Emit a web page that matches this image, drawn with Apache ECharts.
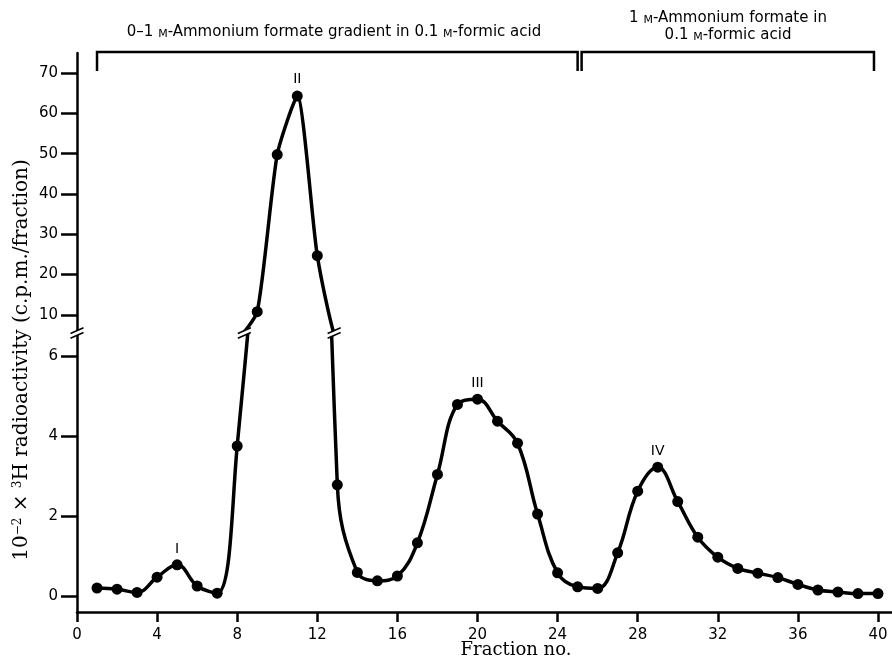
<!DOCTYPE html>
<html>
<head>
<meta charset="utf-8">
<script src="https://cdn.jsdelivr.net/npm/echarts@6/dist/echarts.min.js"></script>
<style>
  html, body { margin: 0; padding: 0; background: #fff; }
  #chart { width: 892px; height: 668px; }
</style>
</head>
<body>
<div id="chart"></div>
<script>
// fraction numbers and 10^-2 x 3H c.p.m. per fraction
const fractions = [1, 2, 3, 4, 5, 6, 7, 8, 9, 10, 11, 12, 13, 14, 15, 16, 17, 18, 19, 20,
  21, 22, 23, 24, 25, 26, 27, 28, 29, 30, 31, 32, 33, 34, 35, 36, 37, 38, 39, 40];
const activity = [0.2, 0.17, 0.09, 0.47, 0.78, 0.25, 0.07, 3.75, 10.8, 49.8,
  64.3, 24.7, 2.78, 0.59, 0.38, 0.5, 1.33, 3.04, 4.79, 4.92,
  4.37, 3.82, 2.05, 0.58, 0.23, 0.19, 1.08, 2.62, 3.22, 2.36,
  1.47, 0.97, 0.69, 0.57, 0.46, 0.29, 0.15, 0.1, 0.06, 0.06];

const peakNames = ['I', 'II', 'III', 'IV'];
const peakFractions = [5, 11, 20, 29];

const xTicks = [0, 4, 8, 12, 16, 20, 24, 28, 32, 36, 40];
const lowTicks = [0, 2, 4, 6];
const highTicks = [10, 20, 30, 40, 50, 60, 70];

// solvent brackets along the top: [from fraction, to fraction]
const gradientSpan = [1, 25];
const plateauSpan = [25.2, 39.8];

const sans = 'DejaVu Sans';
const serif = 'DejaVu Serif';
const axisColor = '#000';

const points = fractions.map((f, i) => [f, activity[i]]);

function peakMarks(upper) {
  return peakNames
    .map((name, i) => ({ name: name, coord: [peakFractions[i], activity[peakFractions[i] - 1]] }))
    .filter(d => (d.coord[1] > 8) === upper);
}

function xAxisFor(gridIndex, show) {
  return {
    gridIndex: gridIndex,
    type: 'value',
    min: 0,
    max: 40.7,
    show: show,
    axisLine: { show: true, onZero: false, lineStyle: { color: axisColor, width: 2.5 } },
    axisTick: { show: true, length: 10, customValues: xTicks, lineStyle: { color: axisColor, width: 2.5 } },
    axisLabel: { customValues: xTicks, margin: 16, color: '#000', fontFamily: sans, fontSize: 15 },
    splitLine: { show: false }
  };
}

function yAxisFor(gridIndex, min, max, ticks) {
  return {
    gridIndex: gridIndex,
    type: 'value',
    min: min,
    max: max,
    axisLine: { show: true, onZero: false, lineStyle: { color: axisColor, width: 2.5 } },
    axisTick: { show: true, length: 16, customValues: ticks, lineStyle: { color: axisColor, width: 2.5 } },
    axisLabel: { customValues: ticks, margin: 19, color: '#000', fontFamily: sans, fontSize: 15 },
    splitLine: { show: false }
  };
}

function curveSeries(gridIndex, upper) {
  return {
    type: 'line',
    xAxisIndex: gridIndex,
    yAxisIndex: gridIndex,
    data: points,
    smooth: upper ? 0.2 : 0.4,
    clip: true,
    symbol: 'circle',
    symbolSize: 11,
    lineStyle: { color: '#000', width: 3.5 },
    itemStyle: { color: '#000' },
    markPoint: {
      symbol: 'circle',
      symbolSize: 1,
      itemStyle: { color: 'rgba(0,0,0,0)' },
      label: {
        show: true,
        position: 'top',
        distance: upper ? 9 : 8,
        formatter: p => p.name,
        color: '#000',
        fontFamily: sans,
        fontSize: 14
      },
      data: peakMarks(upper)
    }
  };
}

const option = {
  animation: false,
  backgroundColor: '#fff',
  grid: [
    { left: 77, right: 0, top: 335, bottom: 56 },   // 0-6 part
    { left: 77, right: 0, top: 53, height: 278 }    // 10-70 part
  ],
  xAxis: [xAxisFor(0, true), xAxisFor(1, false)],
  yAxis: [yAxisFor(0, -0.4, 6.525, lowTicks), yAxisFor(1, 6, 75, highTicks)],
  series: [curveSeries(0, false), curveSeries(1, true)]
};

const chart = echarts.init(document.getElementById('chart'));
chart.setOption(option);

// ---- annotations: axis breaks, solvent brackets, titles ----
const lowTop = chart.convertToPixel({ yAxisIndex: 0 }, 6.525);
const highBottom = chart.convertToPixel({ yAxisIndex: 1 }, 6);
const breakY = (lowTop + highBottom) / 2;
const xPx = f => chart.convertToPixel({ xAxisIndex: 0 }, f);
const lowPx = (i) => chart.convertToPixel({ gridIndex: 0 }, points[i]);
const highPx = (i) => chart.convertToPixel({ gridIndex: 1 }, points[i]);

function crossAt(a, b, y) {
  const t = (y - a[1]) / (b[1] - a[1]);
  return a[0] + t * (b[0] - a[0]);
}

// where the curve passes the break, averaged over both halves
const leftCross = (crossAt(lowPx(7), lowPx(8), lowTop) + crossAt(highPx(7), highPx(8), highBottom)) / 2;
const rightCross = (crossAt(lowPx(11), lowPx(12), lowTop) + crossAt(highPx(11), highPx(12), highBottom)) / 2;

function breakMark(cx, cy) {
  const dx = 6.5, dy = 2.8, g = 2.4;
  const line = (o) => ({
    type: 'line',
    z: 101,
    shape: { x1: cx - dx, y1: cy + dy + o, x2: cx + dx, y2: cy - dy + o },
    style: { stroke: '#000', lineWidth: 1.6 }
  });
  return [
    {
      type: 'polygon',
      z: 100,
      shape: { points: [[cx - dx, cy + dy - g], [cx + dx, cy - dy - g], [cx + dx, cy - dy + g], [cx - dx, cy + dy + g]] },
      style: { fill: '#fff' }
    },
    line(-g),
    line(g)
  ];
}

function bracket(span) {
  const x1 = xPx(span[0]);
  const x2 = xPx(span[1]);
  return {
    type: 'polyline',
    z: 100,
    shape: { points: [[x1, 71], [x1, 52], [x2, 52], [x2, 71]] },
    style: { stroke: '#000', lineWidth: 2.5, fill: null }
  };
}

const smallCaps = { sc: { fontSize: 11, fontFamily: sans, verticalAlign: 'bottom' } };

function label(x, y, text) {
  return {
    type: 'text',
    z: 100,
    x: x,
    y: y,
    style: {
      text: text,
      rich: smallCaps,
      fontFamily: sans,
      fontSize: 15,
      fill: '#000',
      align: 'center',
      verticalAlign: 'middle'
    }
  };
}

const graphics = [
  ...breakMark(77, breakY),
  ...breakMark(leftCross, breakY),
  ...breakMark(rightCross, breakY),
  bracket(gradientSpan),
  bracket(plateauSpan),
  label(334, 32, '0–1 {sc|M}-Ammonium formate gradient in 0.1 {sc|M}-formic acid'),
  label(728, 18, '1 {sc|M}-Ammonium formate in'),
  label(728, 35, '0.1 {sc|M}-formic acid'),
  {
    type: 'text',
    z: 100,
    x: 22,
    y: 360,
    rotation: Math.PI / 2,
    style: {
      text: '10{sup|−2} × {sup|3}H radioactivity (c.p.m./fraction)',
      rich: { sup: { fontSize: 12, fontFamily: serif, verticalAlign: 'top' } },
      fontFamily: serif,
      fontSize: 20,
      fill: '#000',
      align: 'center',
      verticalAlign: 'middle'
    }
  },
  {
    type: 'text',
    z: 100,
    x: 516,
    y: 650,
    style: {
      text: 'Fraction no.',
      fontFamily: serif,
      fontSize: 18,
      fill: '#000',
      align: 'center',
      verticalAlign: 'middle'
    }
  }
];

chart.setOption({ graphic: graphics });
</script>
</body>
</html>
